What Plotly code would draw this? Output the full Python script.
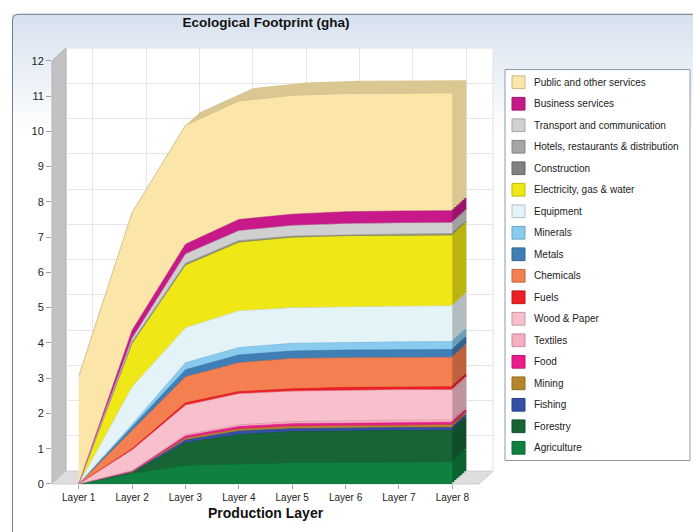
import plotly.graph_objects as go

W, H = 693, 532

layers = ["Layer 1", "Layer 2", "Layer 3", "Layer 4", "Layer 5", "Layer 6", "Layer 7", "Layer 8"]

# Footprint per sector and production layer (gha), bottom of the stack first
agriculture = [0, 0.30, 0.53, 0.57, 0.60, 0.61, 0.62, 0.62]
forestry = [0, 0.02, 0.64, 0.83, 0.89, 0.90, 0.90, 0.90]
fishing = [0, 0.01, 0.08, 0.10, 0.08, 0.08, 0.08, 0.08]
mining = [0, 0.01, 0.05, 0.06, 0.07, 0.07, 0.07, 0.08]
food = [0, 0.02, 0.06, 0.07, 0.07, 0.07, 0.07, 0.07]
textiles = [0, 0.02, 0.04, 0.05, 0.06, 0.07, 0.07, 0.07]
wood_paper = [0, 0.58, 0.83, 0.88, 0.86, 0.86, 0.86, 0.85]
fuels = [0, 0.04, 0.07, 0.06, 0.07, 0.08, 0.08, 0.09]
chemicals = [0, 0.52, 0.74, 0.82, 0.86, 0.84, 0.84, 0.83]
metals = [0, 0.09, 0.20, 0.22, 0.21, 0.22, 0.22, 0.22]
minerals = [0, 0.08, 0.20, 0.21, 0.22, 0.22, 0.22, 0.23]
equipment = [0, 1.07, 0.99, 1.04, 1.01, 1.01, 1.01, 1.01]
electricity = [0, 1.22, 1.77, 1.94, 1.99, 2.00, 2.00, 2.00]
construction = [0, 0.02, 0.02, 0.02, 0.02, 0.02, 0.02, 0.02]
hotels = [0, 0.03, 0.04, 0.03, 0.02, 0.02, 0.03, 0.03]
transport = [0, 0.10, 0.26, 0.28, 0.30, 0.31, 0.31, 0.31]
business = [0, 0.23, 0.28, 0.32, 0.32, 0.34, 0.34, 0.34]
public = [3.05, 3.33, 3.37, 3.36, 3.37, 3.35, 3.34, 3.34]

series = [
    ("Agriculture", agriculture),
    ("Forestry", forestry),
    ("Fishing", fishing),
    ("Mining", mining),
    ("Food", food),
    ("Textiles", textiles),
    ("Wood & Paper", wood_paper),
    ("Fuels", fuels),
    ("Chemicals", chemicals),
    ("Metals", metals),
    ("Minerals", minerals),
    ("Equipment", equipment),
    ("Electricity, gas & water", electricity),
    ("Construction", construction),
    ("Hotels, restaurants & distribution", hotels),
    ("Transport and communication", transport),
    ("Business services", business),
    ("Public and other services", public),
]

colors = {
    "Agriculture": "#0f8040",
    "Forestry": "#176535",
    "Fishing": "#3450a8",
    "Mining": "#b5862c",
    "Food": "#ec1b8c",
    "Textiles": "#f6afc0",
    "Wood & Paper": "#f8bfcc",
    "Fuels": "#ee2026",
    "Chemicals": "#f47f50",
    "Metals": "#3f7fb5",
    "Minerals": "#88cbee",
    "Equipment": "#e3f3f8",
    "Electricity, gas & water": "#f0e816",
    "Construction": "#808080",
    "Hotels, restaurants & distribution": "#a6a6a6",
    "Transport and communication": "#d0d0d0",
    "Business services": "#c8198a",
    "Public and other services": "#fbe5a8",
}


def shade(hex_color, f):
    h = hex_color.lstrip("#")
    r, g, b = (int(h[i:i + 2], 16) for i in (0, 2, 4))
    return "#%02x%02x%02x" % (int(r * f), int(g * f), int(b * f))


def px(x):
    return x / W


def py(y):
    return 1 - y / H


FONT = "Liberation Sans, Arial, sans-serif"

# Front plane of the chart in pixels; the depth is drawn as copies of the stack
# pushed back along the diagonal (DEPTH_X right, DEPTH_Y up).
FX0, FX1, FY_TOP, FY_BOT = 52, 479, 56, 489
DEPTH_X, DEPTH_Y = 14, 13
shifts = [14, 12, 10, 8, 6, 4, 2, 0]   # back to front

fig = go.Figure()
layout_axes = {}

for idx, s in enumerate(shifts, start=1):
    dx, dy = s, s * DEPTH_Y / DEPTH_X
    xa = "x" if idx == 1 else "x%d" % idx
    ya = "y" if idx == 1 else "y%d" % idx
    is_front = s == 0
    is_back = idx == 1

    for name, vals in series:
        c = colors[name]
        is_top = name == "Public and other services"
        if is_front:
            fill = c
            line = dict(width=1 if is_top else 0.5, color=shade(c, 0.85 if is_top else 0.9))
        else:
            fill = shade(c, 0.87 if is_top else 0.78)
            line = dict(width=0, color=fill)
        fig.add_trace(go.Scatter(
            x=layers, y=vals, name=name, stackgroup="depth%d" % idx,
            xaxis=xa, yaxis=ya, mode="lines", line=line, fillcolor=fill,
            showlegend=False, hoverinfo=None if is_front else "skip",
        ))

    xkey = "xaxis" if idx == 1 else "xaxis%d" % idx
    ykey = "yaxis" if idx == 1 else "yaxis%d" % idx
    xdom = [px(FX0 + dx), px(FX1 + dx)]
    ydom = [py(FY_BOT - dy), py(FY_TOP - dy)]
    xcfg = dict(domain=xdom, range=[-0.5, 7.5], type="category", anchor=ya,
                zeroline=False, showline=False, fixedrange=True,
                showgrid=is_back, gridcolor="#e6e6e6", gridwidth=1)
    ycfg = dict(domain=ydom, range=[0, 12], dtick=1, anchor=xa,
                zeroline=False, showline=False, fixedrange=True,
                showgrid=is_back, gridcolor="#e6e6e6", gridwidth=1)
    if is_front:
        xcfg.update(ticks="outside", ticklen=4, tickcolor="#a0a0a0",
                    tickfont=dict(family=FONT, size=10, color="#222"))
        ycfg.update(ticks="outside", ticklen=5, tickcolor="#a0a0a0",
                    tickfont=dict(family=FONT, size=11, color="#222"))
    else:
        xcfg.update(showticklabels=False, ticks="")
        ycfg.update(showticklabels=False, ticks="")
    layout_axes[xkey] = xcfg
    layout_axes[ykey] = ycfg

shapes = []

# Panel background: soft blue fading to white towards the bottom
top, bottom, steps = 8, 130, 40
c0 = (0xd7, 0xe2, 0xef)
for i in range(steps):
    t = i / (steps - 1)
    col = tuple(int(c0[k] + (255 - c0[k]) * t) for k in range(3))
    y0 = top + (bottom - top) * i / steps
    y1 = top + (bottom - top) * (i + 1) / steps + 0.5
    shapes.append(dict(type="rect", xref="paper", yref="paper",
                       x0=px(12), x1=1, y0=py(y1), y1=py(y0),
                       fillcolor="#%02x%02x%02x" % col, line=dict(width=0), layer="below"))

# Panel border with rounded top-left corner
shapes.append(dict(
    type="path", xref="paper", yref="paper", layer="below",
    path="M %f,%f L %f,%f Q %f,%f %f,%f L %f,%f" % (
        px(12.5), py(540), px(12.5), py(15), px(12.5), py(8.5), px(19), py(8.5), px(700), py(8.5)),
    line=dict(color="#6f8093", width=1),
))

# Back wall, left wall and floor
BX0, BX1 = FX0 + DEPTH_X, FX1 + DEPTH_X
BY_TOP, BY_BOT = FY_TOP - DEPTH_Y, FY_BOT - DEPTH_Y
shapes.append(dict(type="rect", xref="paper", yref="paper", layer="below",
                   x0=px(BX0), x1=px(BX1), y0=py(BY_BOT), y1=py(BY_TOP),
                   fillcolor="white", line=dict(color="#e2e2e2", width=1)))
shapes.append(dict(type="path", xref="paper", yref="paper", layer="below",
                   path="M %f,%f L %f,%f L %f,%f L %f,%f Z" % (
                       px(FX0), py(FY_BOT), px(FX0), py(FY_TOP), px(BX0), py(BY_TOP), px(BX0), py(BY_BOT)),
                   fillcolor="#c2c2c2", line=dict(color="#b4b4b4", width=1)))
shapes.append(dict(type="path", xref="paper", yref="paper", layer="below",
                   path="M %f,%f L %f,%f L %f,%f L %f,%f Z" % (
                       px(FX0), py(FY_BOT), px(BX0), py(BY_BOT), px(BX1), py(BY_BOT), px(FX1), py(FY_BOT)),
                   fillcolor="#dedede", line=dict(color="#cfcfcf", width=1)))

# Legend box
shapes.append(dict(type="rect", xref="paper", yref="paper",
                   x0=px(505), x1=px(690), y0=py(465), y1=py(65),
                   fillcolor="white", line=dict(color="#8c9aa8", width=1)))

annotations = []
for i, (name, _) in enumerate(reversed(series)):
    yc = 78 + 22 * i
    c = colors[name]
    shapes.append(dict(type="rect", xref="paper", yref="paper",
                       x0=px(512), x1=px(525), y0=py(yc + 6.5), y1=py(yc - 6.5),
                       fillcolor=c, line=dict(color=shade(c, 0.8), width=1)))
    annotations.append(dict(text=name, xref="paper", yref="paper",
                            x=px(532), y=py(yc), xanchor="left", yanchor="middle",
                            showarrow=False, font=dict(family=FONT, size=10, color="#1a1a1a")))

annotations.append(dict(text="<b>Production Layer</b>", xref="paper", yref="paper",
                        x=px(265.5), y=py(519), xanchor="center", yanchor="middle",
                        showarrow=False, font=dict(family=FONT, size=14, color="#111")))

fig.update_layout(
    width=W, height=H,
    margin=dict(l=0, r=0, t=0, b=0),
    paper_bgcolor="white",
    plot_bgcolor="rgba(0,0,0,0)",
    title=dict(text="<b>Ecological Footprint (gha)</b>", x=px(266), y=py(22),
               xanchor="center", yanchor="middle",
               font=dict(family=FONT, size=13.5, color="#111")),
    shapes=shapes,
    annotations=annotations,
    showlegend=False,
    hovermode="x",
    **layout_axes,
)

fig.write_html("out.html")
